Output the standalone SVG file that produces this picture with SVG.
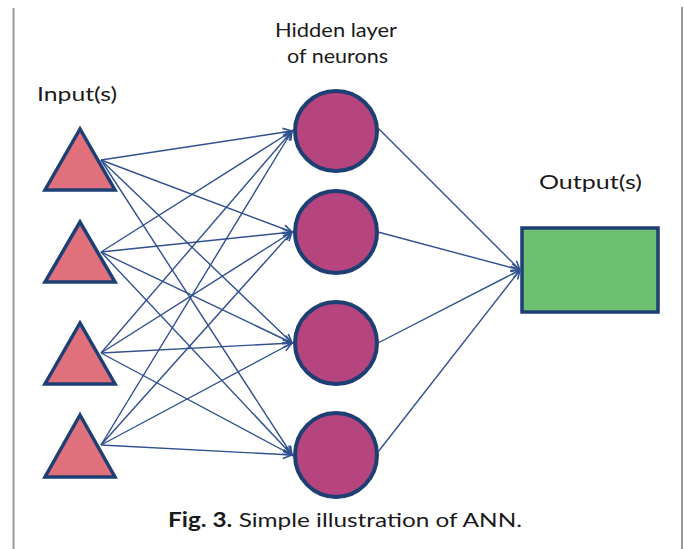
<svg xmlns="http://www.w3.org/2000/svg" width="684" height="549" viewBox="0 0 684 549">
<style>
.lbl{font-family:Lato,"Open Sans","Liberation Sans",sans-serif;font-size:20px;fill:#1a1a1a}
.tri{fill:#e0707c;stroke:#1e3f73;stroke-width:3.5;stroke-linejoin:miter}
.neu{fill:#b5447f;stroke:#1e3f73;stroke-width:4}
.out{fill:#6cc070;stroke:#1e3f73;stroke-width:3.5}
.c line{stroke:#30508f;stroke-width:1.4;marker-end:url(#arr)}
.frame{stroke:#9a9a9a;stroke-width:2}
</style>
<defs>
<marker id="arr" markerUnits="userSpaceOnUse" markerWidth="12" markerHeight="12" refX="10" refY="5" orient="auto">
<path d="M1,1 L10,5 L1,9" fill="none" stroke="#30508f" stroke-width="1.6"/>
</marker>
</defs>
<rect width="684" height="549" fill="#ffffff"/>
<line class="frame" x1="13.5" y1="8" x2="13.5" y2="549"/>
<line class="frame" x1="682" y1="7" x2="682" y2="549"/>

<text class="lbl" x="275" y="37" textLength="122" lengthAdjust="spacingAndGlyphs">Hidden layer</text>
<text class="lbl" x="287" y="63" textLength="101" lengthAdjust="spacingAndGlyphs">of neurons</text>
<text class="lbl" x="37" y="101" textLength="80" lengthAdjust="spacingAndGlyphs">Input(s)</text>
<text class="lbl" x="539" y="189" textLength="103" lengthAdjust="spacingAndGlyphs">Output(s)</text>

<g id="in1"><polygon class="tri" points="80,129 45,190 115,190"/></g>
<g id="in2"><polygon class="tri" points="80,222 45,282 115,282"/></g>
<g id="in3"><polygon class="tri" points="80,323 45,384 115,384"/></g>
<g id="in4"><polygon class="tri" points="80,415 45,477 115,477"/></g>

<g id="h1"><ellipse class="neu" cx="336" cy="131" rx="41" ry="40"/></g>
<g id="h2"><ellipse class="neu" cx="336" cy="232" rx="41" ry="41"/></g>
<g id="h3"><ellipse class="neu" cx="336" cy="343" rx="41" ry="41"/></g>
<g id="h4"><ellipse class="neu" cx="336" cy="455" rx="41" ry="42"/></g>

<g id="out"><rect class="out" x="522" y="228" width="136" height="84"/></g>

<g id="connectors" class="c">
<line x1="101" y1="160" x2="292" y2="131"/>
<line x1="101" y1="160" x2="292" y2="232"/>
<line x1="101" y1="160" x2="292" y2="343"/>
<line x1="101" y1="160" x2="292" y2="455"/>
<line x1="101" y1="252" x2="292" y2="131"/>
<line x1="101" y1="252" x2="292" y2="232"/>
<line x1="101" y1="252" x2="292" y2="343"/>
<line x1="101" y1="252" x2="292" y2="455"/>
<line x1="101" y1="353" x2="292" y2="131"/>
<line x1="101" y1="353" x2="292" y2="232"/>
<line x1="101" y1="353" x2="292" y2="343"/>
<line x1="101" y1="353" x2="292" y2="455"/>
<line x1="101" y1="445" x2="292" y2="131"/>
<line x1="101" y1="445" x2="292" y2="232"/>
<line x1="101" y1="445" x2="292" y2="343"/>
<line x1="101" y1="445" x2="292" y2="455"/>
<line x1="378" y1="128" x2="520" y2="270"/>
<line x1="378" y1="232" x2="520" y2="270"/>
<line x1="378" y1="343" x2="520" y2="270"/>
<line x1="378" y1="452" x2="520" y2="270"/>
</g>

<text class="lbl" x="168" y="527" textLength="354" lengthAdjust="spacingAndGlyphs"><tspan font-weight="bold">Fig. 3.</tspan> Simple illustration of ANN.</text>
</svg>
